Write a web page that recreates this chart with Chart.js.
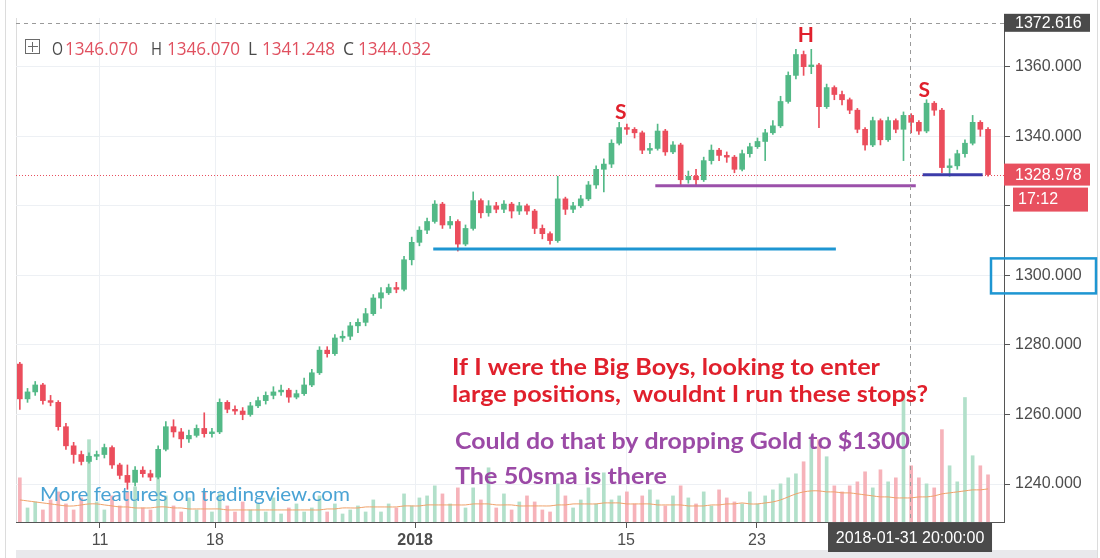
<!DOCTYPE html>
<html>
<head>
<meta charset="utf-8">
<script src="https://cdn.jsdelivr.net/npm/chart.js@4.4.0/dist/chart.umd.min.js"></script>
<style>
  html, body { margin: 0; padding: 0; background: #fff; }
  #wrap { width: 1100px; height: 558px; }
</style>
</head>
<body>
<div id="wrap"><canvas id="grafico" width="1100" height="558"></canvas></div>
<script>
// --- DADOS (XAUUSD, velas de 8h) ---
const firstOpen = 1274.5;
const closes = [
  1264.5, 1266.5, 1268.5, 1264.0, 1263.5, 1256.5, 1251.0, 1248.5, 1246.5, 1248.0,
  1248.5, 1250.5, 1245.5, 1242.5, 1240.5, 1244.0, 1243.0, 1242.0, 1250.0, 1256.5,
  1255.0, 1253.0, 1254.0, 1256.0, 1254.5, 1255.0, 1263.5, 1261.5, 1261.0, 1260.0,
  1262.5, 1264.0, 1265.5, 1266.5, 1267.0, 1265.0, 1266.0, 1268.5, 1272.0, 1278.5,
  1277.5, 1282.0, 1282.5, 1285.5, 1286.5, 1289.0, 1293.5, 1295.0, 1296.5, 1296.0,
  1304.5, 1309.5, 1313.0, 1315.5, 1320.5, 1314.5, 1315.5, 1309.0, 1313.5, 1321.5,
  1318.0, 1320.0, 1319.0, 1320.5, 1318.5, 1320.0, 1318.5, 1313.5, 1312.0, 1310.0,
  1322.0, 1319.0, 1320.0, 1322.0, 1326.0, 1330.5, 1332.0, 1338.0, 1342.5, 1342.0,
  1341.0, 1336.0, 1336.5, 1341.5, 1335.5, 1337.5, 1327.5, 1328.5, 1327.5, 1333.0,
  1336.0, 1334.5, 1334.0, 1330.5, 1335.0, 1337.0, 1338.5, 1341.0, 1343.0, 1350.0,
  1357.5, 1363.5, 1360.0, 1360.5, 1348.5, 1354.0, 1352.0, 1350.5, 1347.5, 1342.0,
  1337.5, 1344.5, 1339.0, 1344.5, 1342.0, 1346.0, 1344.0, 1341.5, 1349.5, 1347.5,
  1331.0, 1331.5, 1335.0, 1338.0, 1344.0, 1342.0, 1328.978
];
const highs = [
  1275.0, 1267.5, 1269.5, 1269.0, 1265.5, 1264.0, 1257.5, 1252.0, 1249.5, 1249.0,
  1249.5, 1251.5, 1251.0, 1246.0, 1245.5, 1245.0, 1245.0, 1244.0, 1251.0, 1258.0,
  1258.5, 1256.0, 1255.5, 1257.0, 1260.5, 1256.0, 1264.5, 1264.0, 1262.5, 1262.0,
  1263.5, 1265.0, 1266.5, 1268.0, 1268.5, 1267.5, 1267.0, 1270.5, 1273.0, 1279.5,
  1279.5, 1283.0, 1284.0, 1286.5, 1287.5, 1290.5, 1294.5, 1296.5, 1297.5, 1298.0,
  1305.5, 1311.0, 1314.0, 1316.5, 1321.5, 1321.0, 1317.0, 1316.0, 1314.5, 1324.0,
  1322.0, 1321.5, 1321.0, 1321.5, 1321.0, 1321.0, 1320.5, 1319.0, 1314.5, 1312.5,
  1328.5, 1322.5, 1321.0, 1323.0, 1327.0, 1331.5, 1333.5, 1339.0, 1344.0, 1343.5,
  1342.5, 1341.5, 1338.0, 1343.5, 1342.0, 1338.5, 1338.0, 1330.0, 1330.5, 1334.0,
  1337.5, 1336.5, 1335.5, 1334.5, 1336.0, 1338.0, 1339.5, 1342.0, 1344.5, 1351.5,
  1358.5, 1365.0, 1364.5, 1365.0, 1361.0, 1355.0, 1354.5, 1353.0, 1351.0, 1348.0,
  1342.5, 1345.5, 1345.0, 1345.5, 1345.0, 1347.0, 1346.5, 1344.5, 1350.5, 1350.0,
  1348.0, 1333.5, 1336.0, 1339.0, 1346.0, 1344.5, 1342.5
];
const lows = [
  1261.5, 1263.5, 1265.5, 1263.0, 1262.5, 1255.5, 1250.0, 1246.0, 1245.5, 1246.0,
  1247.0, 1247.5, 1244.5, 1241.5, 1238.5, 1239.5, 1242.0, 1241.0, 1241.5, 1249.5,
  1253.5, 1250.5, 1252.0, 1253.5, 1253.5, 1253.5, 1254.5, 1260.5, 1260.0, 1258.5,
  1259.5, 1262.0, 1263.0, 1264.5, 1265.5, 1263.5, 1264.5, 1265.5, 1268.0, 1271.5,
  1276.5, 1277.0, 1281.0, 1281.5, 1283.5, 1285.5, 1288.5, 1290.5, 1294.5, 1295.0,
  1295.5, 1303.0, 1308.5, 1312.0, 1315.0, 1313.5, 1313.5, 1307.0, 1308.5, 1313.0,
  1316.5, 1317.0, 1318.0, 1318.0, 1316.5, 1317.5, 1317.5, 1312.0, 1310.5, 1309.0,
  1309.5, 1317.5, 1318.0, 1319.5, 1321.5, 1325.0, 1324.0, 1331.0, 1337.5, 1340.5,
  1339.5, 1335.0, 1335.0, 1336.0, 1334.5, 1335.0, 1325.5, 1326.5, 1326.0, 1327.0,
  1332.0, 1333.0, 1332.5, 1329.5, 1330.0, 1334.0, 1336.5, 1333.0, 1340.5, 1342.5,
  1349.5, 1356.5, 1357.5, 1358.0, 1342.5, 1348.0, 1350.5, 1349.0, 1346.5, 1341.0,
  1336.0, 1337.0, 1337.5, 1338.5, 1341.0, 1333.0, 1341.0, 1340.5, 1341.0, 1346.0,
  1329.5, 1328.5, 1330.5, 1334.0, 1337.5, 1340.0, 1328.5
];
const volumes = [
  44, 14, 20, 12, 22, 30, 18, 12, 24, 82,
  20, 12, 26, 16, 30, 35, 14, 12, 72, 26,
  16, 10, 24, 12, 30, 10, 28, 16, 10, 20,
  12, 18, 10, 24, 8, 14, 18, 10, 14, 26,
  10, 18, 8, 12, 16, 10, 22, 10, 18, 14,
  28, 16, 24, 26, 36, 28, 18, 34, 14, 34,
  22, 54, 14, 28, 12, 20, 26, 20, 12, 10,
  38, 26, 14, 22, 34, 18, 49, 22, 26, 30,
  18, 26, 32, 22, 16, 26, 36, 24, 18, 30,
  16, 32, 24, 20, 18, 30, 18, 26, 32, 38,
  44, 48, 60, 85, 82, 65, 36, 30, 36, 40,
  50, 34, 52, 40, 44, 127, 56, 44, 38, 34,
  92, 56, 40, 124, 66, 56, 47
];
const volumeMA = [
  22, 21, 20, 19, 18, 17, 16, 16, 17, 18, 18, 17, 16, 15, 15, 14, 14, 14, 15, 15,
  14, 14, 13, 13, 13, 13, 13, 12, 12, 12, 12, 12, 12, 12, 12, 12, 12, 12, 12, 12,
  13, 13, 14, 14, 14, 15, 15, 15, 15, 15, 16, 16, 16, 17, 17, 17, 17, 17, 17, 18,
  18, 18, 17, 17, 17, 16, 16, 16, 16, 16, 17, 17, 18, 18, 18, 18, 19, 19, 19, 18,
  18, 18, 18, 17, 17, 17, 17, 16, 16, 16, 17, 17, 18, 18, 19, 18, 18, 19, 20, 22,
  25, 28, 30, 31, 31, 30, 30, 29, 29, 28, 27, 26, 25, 25, 24, 24, 24, 25, 25, 26,
  28, 29, 30, 31, 32, 32, 33
];

// eixo de tempo: posições em índice de vela e rótulos
const xTickPos = [10.43, 25.40, 51.43, 78.89, 95.93];
const xTickLabels = ['11', '18', '2018', '15', '23'];
const yTicks = [1240, 1260, 1280, 1300, 1320, 1340, 1360];

// linhas de suporte desenhadas no gráfico
const levelPrices = [1307.6, 1325.8, 1328.9];
const levelFrom = [53.8, 82.7, 117.5];
const levelTo = [106.2, 116.6, 125.3];
const levelColors = ['#1e96d2', '#9b50aa', '#3c3caa'];

// ombro-cabeça-ombro
const patternLabels = ['S', 'H', 'S'];
const patternIdx = [78.2, 102.3, 117.7];
const patternPrice = [1346.9, 1369.0, 1353.2];

// crosshair
const crossIdx = 115.85;
const crossPrice = 1372.616;
const crossTime = '2018-01-31 20:00:00';
const legendValues = { O: '1346.070', H: '1346.070', L: '1341.248', C: '1344.032' };
const countdown = '17:12';

// --- CORES ---
const GREEN = '#53b987';
const RED = '#eb4d5c';
const VGREEN = '#b2e0ca';
const VRED = '#f6b3ba';
const TAG_RED = '#e8505f';
const AXIS_TXT = '#4d4d4d';

const opens = closes.map((c, i) => i === 0 ? firstOpen : closes[i - 1]);
const idx = closes.map((_, i) => i);
const up = idx.map(i => closes[i] >= opens[i]);
const lastPrice = closes[closes.length - 1];

function fitText(ctx, text, x, y, w) {
    const m = ctx.measureText(text).width;
    ctx.save();
    ctx.translate(x, y);
    ctx.scale(w / m, 1);
    ctx.fillText(text, 0, 0);
    ctx.restore();
}

const overlay = {
    id: 'overlay',
    beforeDraw(chart) {
        const { ctx, width, height, chartArea: a } = chart;
        ctx.save();
        ctx.fillStyle = '#fff';
        ctx.fillRect(0, 0, width, height);
        ctx.strokeStyle = '#dcdcdc';
        ctx.lineWidth = 1;
        ctx.beginPath();
        ctx.moveTo(5.5, 0); ctx.lineTo(5.5, height);
        ctx.moveTo(1097.5, 0); ctx.lineTo(1097.5, height);
        ctx.moveTo(a.left + 0.5, a.top); ctx.lineTo(a.left + 0.5, a.bottom);
        ctx.stroke();
        ctx.fillStyle = '#e9e9ec';
        ctx.fillRect(a.left, 550, 1097 - a.left, height - 550);
        ctx.restore();
    },
    beforeDatasetsDraw(chart) {
        const { ctx, chartArea: a, scales } = chart;
        const y = Math.round(scales.y.getPixelForValue(lastPrice)) + 0.5;
        ctx.save();
        ctx.strokeStyle = TAG_RED;
        ctx.setLineDash([1, 2]);
        ctx.beginPath();
        ctx.moveTo(a.left, y); ctx.lineTo(a.right, y);
        ctx.stroke();
        ctx.restore();
    },
    afterDatasetsDraw(chart) {
        const { ctx, chartArea: a, scales } = chart;
        const cx = Math.round(scales.x.getPixelForValue(crossIdx)) + 0.5;
        const cy = Math.round(scales.y.getPixelForValue(crossPrice)) + 0.5;
        ctx.save();
        ctx.strokeStyle = '#9a9a9a';
        ctx.setLineDash([4, 4]);
        ctx.beginPath();
        ctx.moveTo(cx, a.top); ctx.lineTo(cx, a.bottom);
        ctx.moveTo(a.left, cy); ctx.lineTo(a.right, cy);
        ctx.stroke();
        ctx.restore();
    },
    afterDraw(chart) {
        const { ctx, chartArea: a, scales } = chart;
        const sx = scales.x, sy = scales.y;
        ctx.save();

        // etiquetas no eixo de preço
        ctx.font = '16px "Liberation Sans", Arial, sans-serif';
        ctx.textBaseline = 'middle';
        ctx.textAlign = 'left';
        const cy = sy.getPixelForValue(crossPrice);
        ctx.fillStyle = '#4a4a4a';
        ctx.fillRect(a.right, cy - 9, 86, 18);
        ctx.fillStyle = '#fff';
        ctx.fillText(crossPrice.toFixed(3), a.right + 11, cy + 1);

        const ly = sy.getPixelForValue(lastPrice);
        ctx.fillStyle = TAG_RED;
        ctx.fillRect(a.right, ly - 11, 86, 22);
        ctx.fillRect(a.right + 9, ly + 13, 75, 24);
        ctx.fillStyle = '#fff';
        ctx.fillText(lastPrice.toFixed(3), a.right + 11, ly + 1);
        ctx.fillText(countdown, a.right + 14, ly + 25);

        const y1300 = sy.getPixelForValue(1300);
        ctx.strokeStyle = '#1e96d2';
        ctx.lineWidth = 2.5;
        ctx.strokeRect(a.right - 13, y1300 - 17, 105, 35);

        // caixa de data do crosshair
        const cx = sx.getPixelForValue(crossIdx);
        ctx.fillStyle = '#4a4a4a';
        ctx.fillRect(cx - 82, a.bottom + 1, 164, 29);
        ctx.fillStyle = '#fff';
        ctx.textAlign = 'center';
        ctx.fillText(crossTime, cx, a.bottom + 17);

        // legenda OHLC
        const lx = a.left;
        ctx.strokeStyle = '#6a6a6a';
        ctx.lineWidth = 1;
        ctx.strokeRect(lx + 9.5, 39.5, 14, 14);
        ctx.beginPath();
        ctx.moveTo(lx + 16.5, 42); ctx.lineTo(lx + 16.5, 52);
        ctx.moveTo(lx + 12, 46.5); ctx.lineTo(lx + 22, 46.5);
        ctx.stroke();
        ctx.textAlign = 'left';
        ctx.textBaseline = 'alphabetic';
        ctx.font = '18px "Open Sans", sans-serif';
        const keys = ['O', 'H', 'L', 'C'];
        const keyX = [36, 135, 232, 327];
        const valX = [49, 151, 246, 342];
        keys.forEach((k, i) => {
            ctx.fillStyle = '#4a4a4a';
            fitText(ctx, k, lx + keyX[i], 55, k === 'L' ? 9 : 11);
            ctx.fillStyle = '#e0505f';
            fitText(ctx, legendValues[k], lx + valX[i], 55, 73);
        });

        // marcações S H S
        ctx.font = 'bold 21px Lato, sans-serif';
        ctx.textAlign = 'center';
        ctx.textBaseline = 'middle';
        ctx.fillStyle = '#e0202c';
        patternLabels.forEach((t, i) => {
            ctx.fillText(t, sx.getPixelForValue(patternIdx[i]), sy.getPixelForValue(patternPrice[i]));
        });

        // textos do autor
        ctx.textAlign = 'left';
        ctx.textBaseline = 'alphabetic';
        ctx.font = 'bold 23px Lato, sans-serif';
        ctx.fillStyle = '#e0202c';
        fitText(ctx, 'If I were the Big Boys, looking to enter', sx.getPixelForValue(56.24), sy.getPixelForValue(1271.3), 428);
        fitText(ctx, 'large positions,  wouldnt I run these stops?', sx.getPixelForValue(56.24), sy.getPixelForValue(1263.65), 476);
        ctx.fillStyle = '#9b4aa6';
        fitText(ctx, 'Could do that by dropping Gold to $1300', sx.getPixelForValue(56.63), sy.getPixelForValue(1249.97), 455);
        fitText(ctx, 'The 50sma is there', sx.getPixelForValue(56.63), sy.getPixelForValue(1240.0), 212);

        // marca d'água
        ctx.font = '20px Lato, sans-serif';
        ctx.fillStyle = '#4aa3d4';
        fitText(ctx, 'More features on tradingview.com', a.left + 24, 501, 310);

        ctx.restore();
    }
};

const candleColors = idx.map(i => up[i] ? GREEN : RED);
const volumeColors = idx.map(i => up[i] ? VGREEN : VRED);

const datasets = [
    {
        type: 'bar', label: 'corpo',
        data: idx.map(i => ({ x: i, y: [opens[i], closes[i]] })),
        backgroundColor: candleColors, barThickness: 5, minBarLength: 1,
        grouped: false, yAxisID: 'y', order: 1
    },
    {
        type: 'bar', label: 'pavio',
        data: idx.map(i => ({ x: i, y: [lows[i], highs[i]] })),
        backgroundColor: candleColors, barThickness: 1,
        grouped: false, yAxisID: 'y', order: 2
    },
    {
        type: 'bar', label: 'volume',
        data: idx.map(i => ({ x: i, y: volumes[i] })),
        backgroundColor: volumeColors, barThickness: 3,
        grouped: false, yAxisID: 'yv', order: 10
    },
    {
        type: 'line', label: 'media volume',
        data: idx.map(i => ({ x: i, y: volumeMA[i] })),
        borderColor: '#f0a26a', borderWidth: 1, pointRadius: 0, tension: 0.3,
        yAxisID: 'yv', order: 9
    }
];
levelPrices.forEach((p, i) => {
    datasets.push({
        type: 'line', label: 'nivel ' + i,
        data: [{ x: levelFrom[i], y: p }, { x: levelTo[i], y: p }],
        borderColor: levelColors[i], borderWidth: 3, pointRadius: 0,
        yAxisID: 'y', order: -1
    });
});

new Chart(document.getElementById('grafico'), {
    data: { datasets },
    options: {
        responsive: false,
        animation: false,
        layout: { padding: { left: 16, top: 18, right: 0, bottom: 0 } },
        plugins: { legend: { display: false }, tooltip: { enabled: false } },
        scales: {
            x: {
                type: 'linear', min: -0.5, max: 128.08, offset: false,
                afterBuildTicks: s => { s.ticks = xTickPos.map(v => ({ value: v })); },
                afterFit: s => { s.height = 36; },
                ticks: {
                    autoSkip: false, maxRotation: 0, padding: 3, color: AXIS_TXT,
                    callback: (v, i) => xTickLabels[i],
                    font: c => ({ family: '"Liberation Sans", Arial, sans-serif', size: 16, weight: c.index === 2 ? 'bold' : 'normal' })
                },
                grid: { offset: false, color: '#edf0f4', tickColor: '#555', tickLength: 6 },
                border: { color: '#555', width: 1 }
            },
            y: {
                type: 'linear', position: 'right', min: 1229.1, max: 1374.0,
                afterBuildTicks: s => { s.ticks = yTicks.map(v => ({ value: v })); },
                afterFit: s => { s.width = 96; },
                ticks: {
                    padding: 5, color: AXIS_TXT,
                    font: { family: '"Liberation Sans", Arial, sans-serif', size: 16 },
                    callback: v => v.toFixed(3)
                },
                grid: { color: '#edf0f4', tickColor: '#555', tickLength: 6 },
                border: { color: '#555', width: 1 }
            },
            yv: { type: 'linear', display: false, min: 0, max: 502 }
        }
    },
    plugins: [overlay]
});
</script>
</body>
</html>
